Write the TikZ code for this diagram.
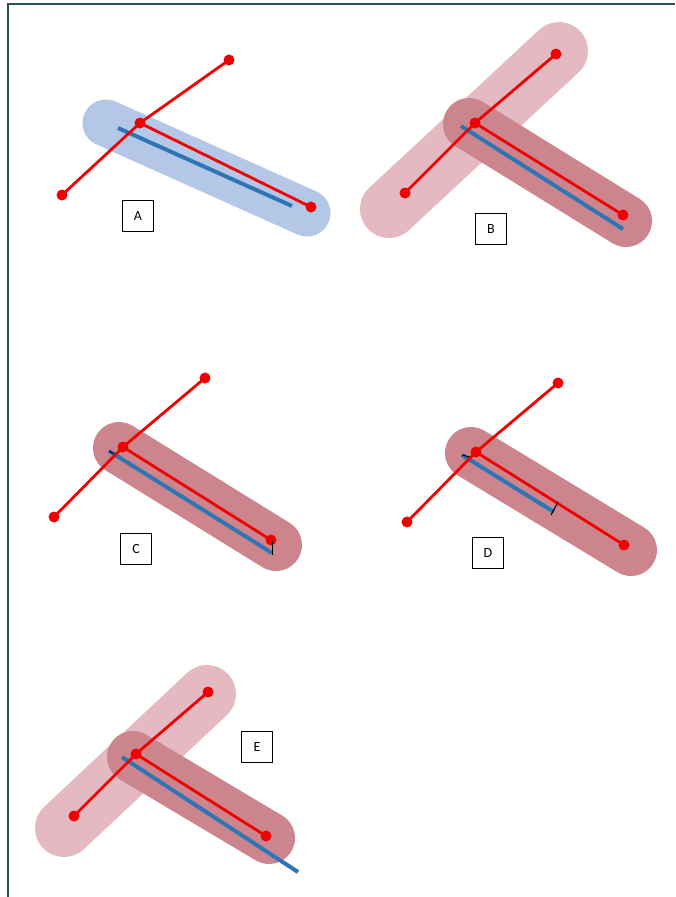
\documentclass[tikz,border=0pt]{standalone}
\usepackage{fontspec}
\setmainfont{Carlito}
\definecolor{frame}{HTML}{2B4F55}
\definecolor{capblue}{HTML}{B4C7E7}
\definecolor{caplight}{HTML}{E4B9C1}
\definecolor{capdark}{HTML}{CC858C}
\definecolor{axisblue}{HTML}{2E75B6}
\definecolor{lred}{HTML}{F00000}
\tikzset{
  capsule/.style={line width=#1, line cap=round},
  redline/.style={draw=lred, line width=2.8pt},
  blueline/.style={draw=axisblue, line width=4pt},
  dot/.style={circle, fill=lred, inner sep=0pt, minimum size=11pt},
  tag/.style={draw=black, line width=0.8pt, fill=white, minimum width=31pt, minimum height=31pt, inner sep=0pt, font=\fontsize{14}{16}\selectfont},
  tick/.style={draw=black, line width=1pt}
}
\begin{document}
\begin{tikzpicture}[x=1pt,y=-1pt]
\useasboundingbox (0,0) rectangle (675,897);
\fill[white] (0,0) rectangle (675,897);
\draw[frame, line width=2pt] (8,897) -- (8,4) -- (675,4);

% ---------- Panel A ----------
\coordinate (a1) at (106,123);
\coordinate (a2) at (307,213);
\draw[capblue, capsule=47pt] (a1) -- (a2);
\coordinate (ab1) at (118,128);
\coordinate (ab2) at (292,206);
\draw[blueline] (ab1) -- (ab2);
\node[dot] (aj) at (140,123) {};
\node[dot] (au) at (229,60) {};
\node[dot] (al) at (62,195) {};
\node[dot] (ar) at (311,207) {};
\draw[redline] (al.center) -- (aj.center) -- (au.center);
\draw[redline] (aj.center) -- (ar.center);
\node[tag] (ta) at (138,216) {A};

% ---------- Panel B ----------
\coordinate (bl1) at (389,209);
\coordinate (bl2) at (559,51);
\draw[caplight, capsule=58pt] (bl1) -- (bl2);
\coordinate (bd1) at (469,124);
\coordinate (bd2) at (626,221);
\draw[capdark, capsule=52pt] (bd1) -- (bd2);
\coordinate (bb1) at (461,126);
\coordinate (bb2) at (623,229);
\draw[blueline] (bb1) -- (bb2);
\node[dot] (bj) at (475,123) {};
\node[dot] (bu) at (556,54) {};
\node[dot] (bl) at (405,193) {};
\node[dot] (br) at (623,215) {};
\draw[redline] (bl.center) -- (bj.center) -- (bu.center);
\draw[redline] (bj.center) -- (br.center);
\node[tag] (tb) at (491,229) {B};

% ---------- Panel C ----------
\coordinate (cd1) at (119,448);
\coordinate (cd2) at (276,545);
\draw[capdark, capsule=52pt] (cd1) -- (cd2);
\coordinate (cb1) at (109,451);
\coordinate (cb2) at (272,553);
\draw[blueline] (cb1) -- (cb2);
\coordinate (cbk) at (116,455);
\draw[tick] (cb1) -- (cbk);
\node[dot] (cj) at (123,447) {};
\node[dot] (cu) at (205,378) {};
\node[dot] (cl) at (54,517) {};
\node[dot] (cr) at (271,540) {};
\draw[redline] (cl.center) -- (cj.center) -- (cu.center);
\draw[redline] (cj.center) -- (cr.center);
\coordinate (ct1) at (272,541);
\coordinate (ct2) at (272,555);
\draw[tick] (ct1) -- (ct2);
\node[tag] (tc) at (136,549) {C};

% ---------- Panel D ----------
\coordinate (dd1) at (471,453);
\coordinate (dd2) at (631,550);
\draw[capdark, capsule=52pt] (dd1) -- (dd2);
\coordinate (db1) at (462,455);
\coordinate (db2) at (554,512);
\draw[blueline] (db1) -- (db2);
\coordinate (dbk) at (470,457);
\draw[tick] (db1) -- (dbk);
\node[dot] (dj) at (476,452) {};
\node[dot] (du) at (558,383) {};
\node[dot] (dl) at (407,522) {};
\node[dot] (dr) at (624,545) {};
\draw[redline] (dl.center) -- (dj.center) -- (du.center);
\draw[redline] (dj.center) -- (dr.center);
\coordinate (dt1) at (551,515);
\coordinate (dt2) at (558,502);
\draw[tick] (dt1) -- (dt2);
\node[tag] (td) at (488,553) {D};

% ---------- Panel E ----------
\coordinate (el1) at (64,828);
\coordinate (el2) at (207,694);
\draw[caplight, capsule=58pt] (el1) -- (el2);
\coordinate (ed1) at (133,757);
\coordinate (ed2) at (269,838);
\draw[capdark, capsule=52pt] (ed1) -- (ed2);
\coordinate (eb1) at (122,757);
\coordinate (eb2) at (298,872);
\draw[blueline] (eb1) -- (eb2);
\node[dot] (ej) at (136,754) {};
\node[dot] (eu) at (208,692) {};
\node[dot] (el) at (74,816) {};
\node[dot] (er) at (266,836) {};
\draw[redline] (el.center) -- (ej.center) -- (eu.center);
\draw[redline] (ej.center) -- (er.center);
\node[tag] (te) at (257,747) {E};
\end{tikzpicture}
\end{document}
